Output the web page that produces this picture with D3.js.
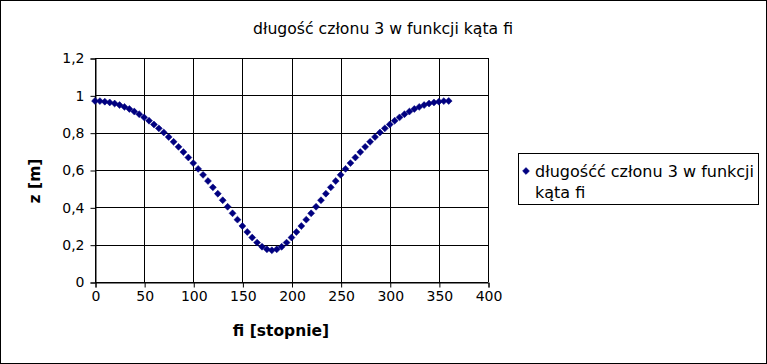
<!DOCTYPE html>
<html><head><meta charset="utf-8">
<script src="https://cdn.jsdelivr.net/npm/d3@7/dist/d3.min.js"></script>
<style>
html,body{margin:0;padding:0;background:#fff;}
svg{display:block;font-family:"DejaVu Sans",sans-serif;}
</style></head>
<body><svg id="c" width="767" height="364"></svg>
<script>
const chartTitle = "długość członu 3 w funkcji kąta fi";
const legendLines = ["długośćć członu 3 w funkcji", "kąta fi"];
const xTitle = "fi [stopnie]";
const yTitle = "z [m]";
const xTicks = [0,50,100,150,200,250,300,350,400];
const yTicks = [0,0.2,0.4,0.6,0.8,1,1.2];
const yTickLabels = ["0","0,2","0,4","0,6","0,8","1","1,2"];
const fi = [0,5,10,15,20,25,30,35,40,45,50,55,60,65,70,75,80,85,90,95,100,105,110,115,120,125,130,135,140,145,150,155,160,165,170,175,180,
  185,190,195,200,205,210,215,220,225,230,235,240,245,250,255,260,265,270,275,280,285,290,295,300,305,310,315,320,325,330,335,340,345,350,355,360];
const z = [0.970,0.969,0.966,0.962,0.956,0.948,0.938,0.927,0.913,0.899,0.882,0.864,0.844,0.823,0.801,0.777,0.751,0.724,0.696,0.667,0.637,0.606,0.574,0.541,0.507,0.473,0.438,0.403,0.368,0.334,0.300,0.268,0.238,0.211,0.189,0.175,0.170,
  0.175,0.189,0.211,0.238,0.268,0.300,0.334,0.368,0.403,0.438,0.473,0.507,0.541,0.574,0.606,0.637,0.667,0.696,0.724,0.751,0.777,0.801,0.823,0.844,0.864,0.882,0.899,0.913,0.927,0.938,0.948,0.956,0.962,0.966,0.969,0.970];

const svg = d3.select("#c");
const W = 767, H = 364;
const L = 95, R = 488, T = 58, B = 282;
const col = "#000080";

svg.append("rect").attr("x",0.5).attr("y",0.5).attr("width",W-1).attr("height",H-1)
  .attr("fill","#fff").attr("stroke","#000");

const x = d3.scaleLinear().domain([0,400]).range([L,R]);
const y = d3.scaleLinear().domain([0,1.2]).range([B,T]);

// grid
const g = svg.append("g");
g.selectAll(".hg").data(yTicks).enter().append("line")
  .attr("x1",L).attr("x2",R).attr("y1",d=>Math.round(y(d))+0.5).attr("y2",d=>Math.round(y(d))+0.5)
  .attr("stroke","#000");
g.selectAll(".vg").data(xTicks).enter().append("line")
  .attr("y1",T).attr("y2",B).attr("x1",d=>Math.round(x(d))+0.5).attr("x2",d=>Math.round(x(d))+0.5)
  .attr("stroke","#000");

// axes
const xa = svg.append("g").attr("transform",`translate(0.5,${Math.round(B)+0.5})`)
  .call(d3.axisBottom(x).tickValues(xTicks).tickSizeOuter(0).tickSize(5).tickPadding(4).tickFormat(d=>d));
const ya = svg.append("g").attr("transform",`translate(${L+0.5},0.5)`)
  .call(d3.axisLeft(y).tickValues(yTicks).tickSizeOuter(0).tickSize(5).tickPadding(6).tickFormat((d,i)=>yTickLabels[i]));
[xa,ya].forEach(a=>{
  a.selectAll("text").attr("font-family","DejaVu Sans").attr("font-size",14).attr("fill","#000");
  a.selectAll("line,path").attr("stroke","#000");
});

// points
const diamond = d3.symbol().type(d3.symbolSquare).size(24);
svg.append("g").selectAll("path").data(fi).enter().append("path")
  .attr("d",diamond)
  .attr("transform",(d,i)=>`translate(${x(d)},${y(z[i])}) rotate(45)`)
  .attr("fill",col).attr("stroke",col).attr("stroke-width",0.5);

// titles
svg.append("text").attr("x",383).attr("y",34).attr("text-anchor","middle")
  .attr("font-size",15.5).attr("textLength",260).attr("lengthAdjust","spacingAndGlyphs").text(chartTitle);
svg.append("text").attr("x",281).attr("y",336).attr("text-anchor","middle")
  .attr("font-size",15.5).attr("font-weight","bold").text(xTitle);
svg.append("text").attr("transform",`translate(40,181) rotate(-90)`).attr("text-anchor","middle")
  .attr("font-size",15.5).attr("font-weight","bold").text(yTitle);

// legend
const lg = svg.append("g");
lg.append("rect").attr("x",518.5).attr("y",153.5).attr("width",240).attr("height",51)
  .attr("fill","#fff").attr("stroke","#000");
lg.append("path").attr("d",diamond).attr("transform","translate(526,171) rotate(45)")
  .attr("fill",col).attr("stroke",col).attr("stroke-width",0.5);
lg.selectAll("text.l").data(legendLines).enter().append("text")
  .attr("x",535).attr("y",(d,i)=>177+i*21).attr("font-size",16).text(d=>d);
</script></body></html>
